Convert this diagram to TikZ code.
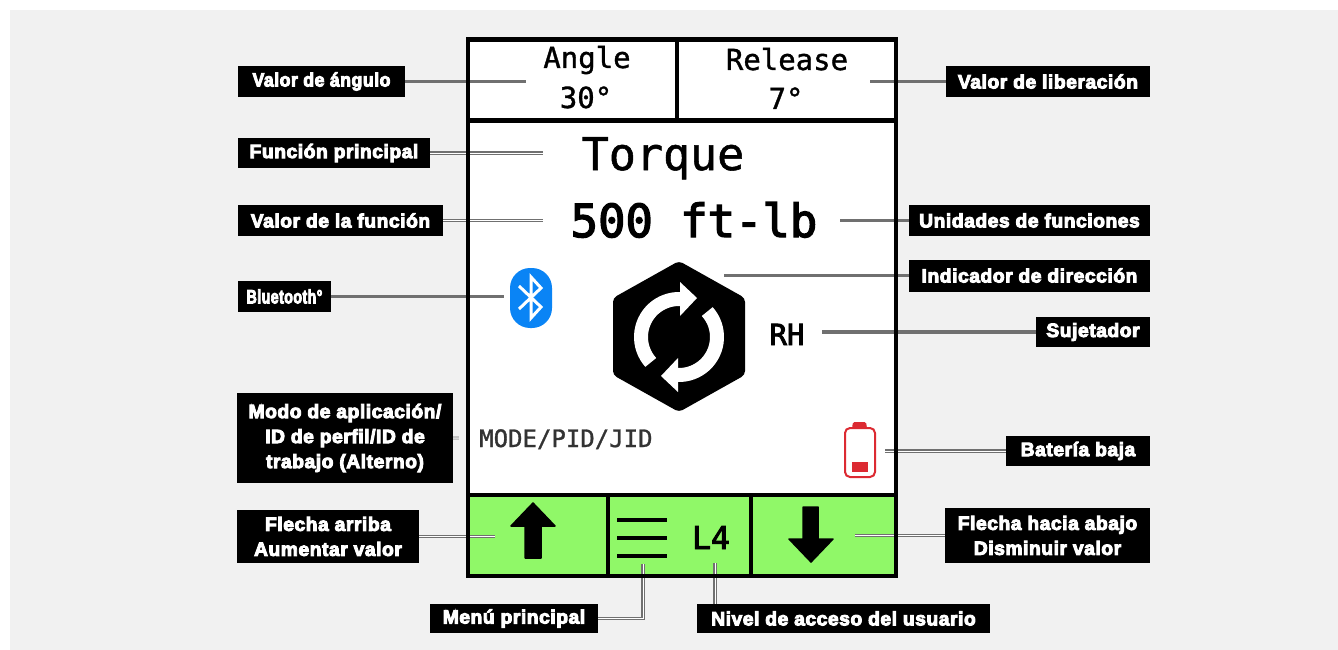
\documentclass[tikz,border=0pt]{standalone}
\usepackage{graphicx}
\usepackage{fontspec}
\setmainfont{Liberation Sans}
\newfontfamily\labf[FakeBold=5,LetterSpace=3]{Liberation Sans Bold}
\newfontfamily\monof[FakeBold=1.2]{DejaVu Sans Mono}
\newfontfamily\monob[FakeBold=3]{DejaVu Sans Mono}
\definecolor{pagebg}{HTML}{F1F1F1}
\definecolor{screengreen}{HTML}{90F868}
\definecolor{btblue}{HTML}{0A84F5}
\definecolor{batred}{HTML}{DC2A32}
\definecolor{leadgray}{HTML}{707070}
\tikzset{
  lab/.style={fill=black,text=white,inner sep=0pt,align=center,font=\labf\fontsize{19.2}{25}\selectfont},
  lead/.style={draw=leadgray,line width=3.4pt},
  leaddbl/.style={draw=leadgray,line width=1.5pt,double=white,double distance=0.8pt},
  frameline/.style={draw=black,line width=4.2pt},
  txt/.style={inner sep=0pt,text=black,anchor=base},
  arrowshape/.style={fill=black,draw=black,line width=1.5pt,line join=round},
}
\begin{document}
\begin{tikzpicture}[x=1pt,y=-1pt]
\useasboundingbox (0,0) rectangle (1338,650);
\fill[white] (0,0) rectangle (1338,650);
\fill[pagebg] (10,10) rectangle (1338,650);
% screen
\fill[white] (468,40) rectangle (896,495);
\fill[screengreen] (468,495) rectangle (896,576);
% labels
\node[lab,minimum width=167pt,minimum height=31pt] (ang) at (321.5,81.5) {\scalebox{0.92}[1]{Valor de ángulo}};
\node[lab,minimum width=204pt,minimum height=31pt] (rel) at (1048,81.5) {Valor de liberación};
\node[lab,minimum width=192pt,minimum height=30pt] (fun) at (334,153) {Función principal};
\node[lab,minimum width=205pt,minimum height=31pt] (val) at (340.5,220.5) {Valor de la función};
\node[lab,minimum width=241pt,minimum height=31pt] (uni) at (1029.5,220.5) {Unidades de funciones};
\node[lab,minimum width=241pt,minimum height=32pt] (ind) at (1029.5,275.5) {Indicador de dirección};
\node[lab,minimum width=93pt,minimum height=31pt] (blu) at (284.5,296.5) {\scalebox{0.74}[1]{Bluetooth°}};
\node[lab,minimum width=114pt,minimum height=30pt] (suj) at (1093,332) {Sujetador};
\node[lab,minimum width=144pt,minimum height=30pt] (bat) at (1078,451) {Batería baja};
\node[lab,minimum width=216pt,minimum height=90pt] (mod) at (345,438) {Modo de aplicación/\\ID de perfil/ID de\\trabajo (Alterno)};
\node[lab,minimum width=182pt,minimum height=53pt] (up) at (328,536.5) {Flecha arriba\\Aumentar valor};
\node[lab,minimum width=205pt,minimum height=55pt] (dn) at (1047.5,535.5) {Flecha hacia abajo\\Disminuir valor};
\node[lab,minimum width=168pt,minimum height=29pt] (men) at (514,618.5) {Menú principal};
\node[lab,minimum width=293pt,minimum height=29pt] (niv) at (843.5,618.5) {Nivel de acceso del usuario};
% connector ends
\coordinate (eang) at (526,81.5);
\coordinate (erel) at (870,81.5);
\coordinate (efun) at (543,153);
\coordinate (eval) at (543,220.5);
\coordinate (euni) at (840,220.5);
\coordinate (eind) at (724,275.5);
\coordinate (eblu) at (504,296.5);
\coordinate (esuj) at (822,332);
\coordinate (ebat) at (885,451);
\coordinate (emod) at (459,438);
\coordinate (eup) at (495,536.5);
\coordinate (edn) at (855,535.5);
\coordinate (emen) at (643,564);
\coordinate (eniv) at (715,563);
\draw[lead] (ang.east) -- (eang);
\draw[lead] (rel.west) -- (erel);
\draw[leaddbl] (fun.east) -- (efun);
\draw[leaddbl] (val.east) -- (eval);
\draw[lead] (uni.west) -- (euni);
\draw[lead] (ind.west) -- (eind);
\draw[lead] (blu.east) -- (eblu);
\draw[lead] (suj.west) -- (esuj);
\draw[leaddbl] (bat.west) -- (ebat);
\draw[leaddbl,opacity=.35] (mod.east) -- (emod);
\draw[leaddbl] (up.east) -- (eup);
\draw[leaddbl] (dn.west) -- (edn);
\draw[leaddbl] (men.east) -| (emen);
\draw[leaddbl] (niv.north -| eniv) -- (eniv);
% frame
\draw[frameline] (468,39.5) rectangle (896,576);
\draw[frameline] (468,120.5) -- (896,120.5);
\draw[frameline] (677,39.5) -- (677,120.5);
\draw[frameline] (468,495) -- (896,495);
\draw[frameline] (608,495) -- (608,576);
\draw[frameline] (751,495) -- (751,576);
% texts
\node[txt,font=\monof\fontsize{29}{30}\selectfont] (tang) at (587,68) {Angle};
\node[txt,font=\monof\fontsize{29}{30}\selectfont] (trel) at (787,70) {Release};
\node[txt,font=\monof\fontsize{29}{30}\selectfont] (vang) at (586,108) {30°};
\node[txt,font=\monof\fontsize{29}{30}\selectfont] (vrel) at (786,109) {7°};
\node[txt,font=\monof\fontsize{45}{46}\selectfont] (ttor) at (663,170) {Torque};
\node[txt,font=\monob\fontsize{45.5}{46}\selectfont] (tval) at (694,237) {500 ft-lb};
\node[txt,font=\monob\fontsize{29}{30}\selectfont] (trh) at (787,345) {RH};
\node[txt,font=\monof\fontsize{24}{25}\selectfont,anchor=base west,text=black!80] (tmod) at (479,447) {MODE/PID/JID};
\node[txt,font=\monob\fontsize{31.5}{32}\selectfont] (tl4) at (711,549) {L4};
% hexagon
\fill[black,rounded corners=4pt] (679,261) -- (745,298) -- (745,375) -- (679,412) -- (613,375) -- (613,298) -- cycle;
\foreach \r in {0,180}{
\begin{scope}[rotate around={\r:(679,337)}]
  \draw[white,line width=14pt] (679,337) ++(138:38) arc[start angle=138,end angle=272,radius=38];
  \fill[white] (680,282) -- (697,298) -- (680,316) -- cycle;
\end{scope}}
% bluetooth
\fill[btblue,rounded corners=20pt] (510,268) rectangle (552,328);
\draw[white,line width=3pt,line join=miter] (519,286) -- (541,307) -- (531,318) -- (531,277) -- (541,288) -- (519,309);
% battery
\draw[batred,line width=2pt,rounded corners=5pt] (845,428) rectangle (875,477);
\fill[batred,rounded corners=1.5pt] (852,428) -- (853,422) -- (866,422) -- (867,428) -- cycle;
\fill[batred] (852,462) rectangle (868,472);
% arrows
\fill[arrowshape] (533,503) -- (555,526) -- (541,526) -- (541,558) -- (525,558) -- (525,526) -- (511,526) -- cycle;
\fill[arrowshape] (811,562) -- (789,539) -- (803,539) -- (803,507) -- (818,507) -- (818,539) -- (833,539) -- cycle;
% menu
\draw[black,line width=4pt] (617,520) -- (667,520);
\draw[black,line width=4pt] (617,538) -- (667,538);
\draw[black,line width=4pt] (617,556) -- (667,556);
\end{tikzpicture}
\end{document}
